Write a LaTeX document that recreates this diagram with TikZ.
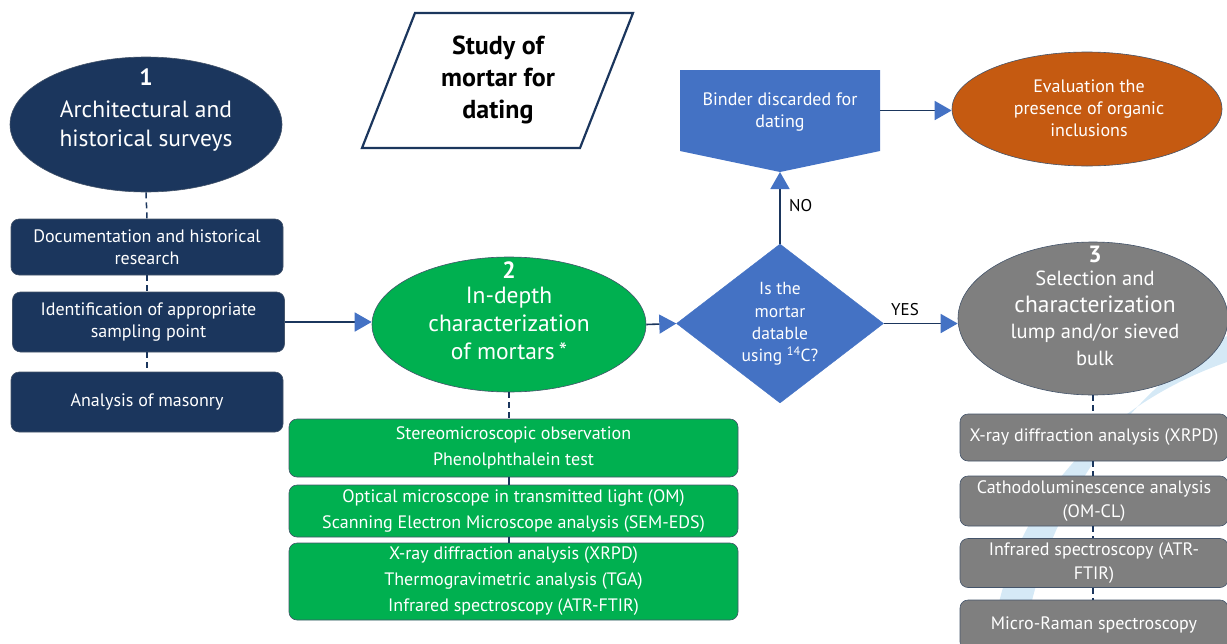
\documentclass[tikz,border=0pt]{standalone}
\usepackage{fontspec}
\setmainfont{PT Sans}
\usetikzlibrary{shapes.geometric,arrows.meta}
\definecolor{navy}{HTML}{1B365D}
\definecolor{mgreen}{HTML}{00B050}
\definecolor{mblue}{HTML}{4472C4}
\definecolor{morange}{HTML}{C55A11}
\definecolor{mgray}{HTML}{7F7F7F}
\definecolor{swoosh}{HTML}{D5E9F6}
\definecolor{graybord}{HTML}{44546A}
\begin{document}
\begin{tikzpicture}[x=1pt,y=-1pt,
  bigtxt/.style={text=white,align=center,font=\fontsize{23.5}{28}\selectfont,inner sep=0pt},
  smalltxt/.style={text=white,align=center,font=\fontsize{18}{22}\selectfont,inner sep=0pt},
  ell/.style={ellipse,inner sep=0pt,draw=graybord,line width=0.6pt},
  navybox/.style={rectangle,rounded corners=8pt,fill=navy,draw=graybord,line width=0.6pt,inner sep=0pt,
     text=white,align=center,font=\fontsize{18}{22}\selectfont,minimum width=272pt},
  greenbox/.style={rectangle,rounded corners=8pt,fill=mgreen,draw=graybord,line width=0.6pt,inner sep=0pt,
     text=white,align=center,font=\fontsize{18}{26}\selectfont,minimum width=449pt},
  graybox/.style={rectangle,rounded corners=8pt,fill=mgray,draw=graybord,line width=0.6pt,inner sep=0pt,
     text=white,align=center,font=\fontsize{18}{24}\selectfont,minimum width=268pt},
  conn/.style={draw=navy,line width=1.6pt},
  arr/.style={conn,-{Triangle[length=17pt,width=19pt,color=mblue]}},
  dashline/.style={draw=navy,line width=1.5pt,dash pattern=on 6pt off 4pt},
  lab/.style={text=black,font=\fontsize{17}{20}\selectfont,inner sep=0pt}
]
\useasboundingbox (0,0) rectangle (1227,643);
% background swoosh
\fill[swoosh] (1227,336) .. controls (1120,395) and (1040,520) .. (1024,643)
   -- (992,643) .. controls (1005,520) and (1090,410) .. (1227,362) -- cycle;

% title parallelogram
\draw[navy,line width=2.2pt,fill=white] (415,13) -- (633,13) -- (580,148) -- (362,148) -- cycle;
\node[text=black,align=center,font=\fontsize{26}{32}\selectfont\bfseries,inner sep=0pt] (title) at (498,80) {Study of\\mortar for\\dating};

% column 1
\node[ell,fill=navy,minimum width=272pt,minimum height=135pt] (e1) at (146,124.5) {};
\node[bigtxt,font=\fontsize{23.5}{29}\selectfont] (e1t) at (146,110) {\textbf{1}\\[3pt]Architectural and\\historical surveys};
\node[navybox,minimum height=56pt] (b1) at (147,247) {Documentation and historical\\research};
\node[navybox,minimum height=60pt] (b2) at (148.5,322) {Identification of appropriate\\sampling point};
\node[navybox,minimum height=60pt] (b3) at (147,402) {Analysis of masonry};
\draw[dashline] (e1.south) -- (b1.north);
\draw[dashline] (b1.south) -- (b2.north -| b1.south);
\draw[dashline] (b2.south -| b1.south) -- (b3.north);

% column 2
\node[ell,fill=mgreen,minimum width=274pt,minimum height=135pt] (e2) at (509,324.5) {};
\node[bigtxt] (e2t) at (509,311) {\textbf{2}\\[-3pt]In-depth\\characterization\\of mortars\,*};
\node[greenbox,minimum height=58pt] (g1) at (513.5,448) {Stereomicroscopic observation\\Phenolphthalein test};
\node[greenbox,minimum height=52pt] (g2) at (513.5,511) {Optical microscope in transmitted light (OM)\\Scanning Electron Microscope analysis (SEM-EDS)};
\node[greenbox,minimum height=77pt] (g3) at (513.5,581.5) {X-ray diffraction analysis (XRPD)\\Thermogravimetric analysis (TGA)\\Infrared spectroscopy (ATR-FTIR)};
\draw[dashline] (e2.south) -- (g1.north -| e2.south);
\draw[conn,line width=1.2pt] (g1.south -| e2.south) -- (g2.north -| e2.south);
\draw[conn,line width=1.2pt] (g2.south -| e2.south) -- (g3.north -| e2.south);
\draw[arr] (b2.east) -- (b2.east -| e2.west);

% decision
\node[diamond,fill=mblue,draw=mblue,minimum width=207pt,minimum height=159pt,inner sep=0pt] (dia) at (780,323.5) {};
\node[smalltxt,font=\fontsize{17.5}{22.3}\selectfont] (diat) at (780,324) {Is the\\mortar\\datable\\using \textsuperscript{14}C?};
\draw[arr] (e2.east) -- (dia.west);

% binder pentagon
\fill[mblue] (680,70) -- (880,70) -- (880,151) -- (780,172) -- (680,151) -- cycle;
\node[rectangle,minimum width=200pt,minimum height=81pt,inner sep=0pt] (bind) at (780,110.5) {};
\node[smalltxt] (bindt) at (780,112) {Binder discarded for\\dating};
\coordinate (bindtip) at (780,172);
\draw[arr] (dia.north) -- (bindtip);
\node[lab,anchor=west] (no) at (789,206) {NO};

% orange ellipse
\node[ell,fill=morange,minimum width=270pt,minimum height=114pt] (e4) at (1087,109) {};
\node[smalltxt] (e4t) at (1089,108) {Evaluation the\\presence of organic\\inclusions};
\draw[arr] (bind.east) -- (bind.east -| e4.west);

% column 3
\node[ell,fill=mgray,minimum width=270pt,minimum height=153pt] (e3) at (1093,318.5) {};
\node[text=white,align=center,inner sep=0pt,font=\fontsize{20.5}{26.7}\selectfont] (e3t) at (1095,306)
  {{\fontsize{23.5}{26.7}\selectfont\textbf{3}}\\[-4pt]Selection and\\{\fontsize{23.5}{26.7}\selectfont characterization}\\lump and/or sieved\\bulk};
\draw[arr] (dia.east) -- (dia.east -| e3.west);
\node[lab] (yes) at (905,310) {YES};

\node[graybox,minimum height=47pt] (r1) at (1094,437.5) {X-ray diffraction analysis (XRPD)};
\node[graybox,minimum height=50pt] (r2) at (1094,501) {Cathodoluminescence analysis\\(OM-CL)};
\node[graybox,minimum height=49pt] (r3) at (1094,563) {Infrared spectroscopy (ATR-\\FTIR)};
\node[graybox,minimum height=50pt] (r4) at (1094,625) {Micro-Raman spectroscopy};
\draw[dashline] (e3.south) -- (r1.north -| e3.south);
\draw[dashline] (r1.south -| e3.south) -- (r2.north -| e3.south);
\draw[dashline] (r2.south -| e3.south) -- (r3.north -| e3.south);
\draw[dashline] (r3.south -| e3.south) -- (r4.north -| e3.south);
\end{tikzpicture}
\end{document}
